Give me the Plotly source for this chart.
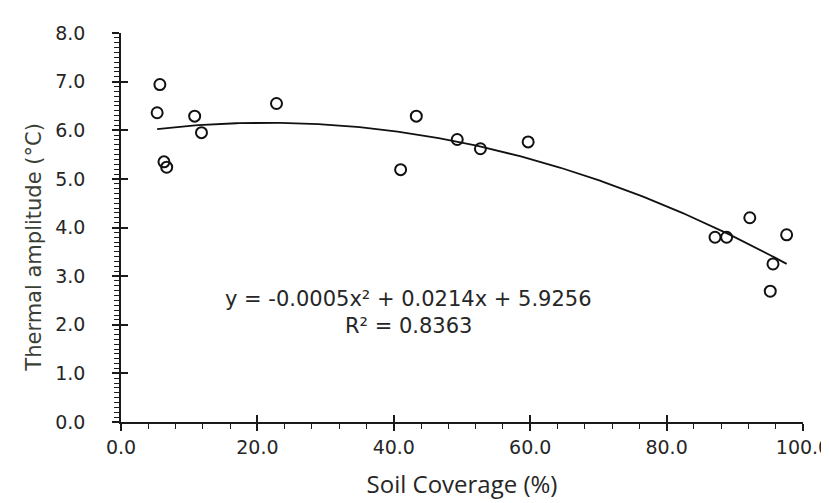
import plotly.graph_objects as go
import numpy as np

# Data
soil_coverage = [5.7, 5.3, 10.8, 11.8, 6.3, 6.7, 22.8, 41.0, 43.3, 49.3, 52.7, 59.7,
                 87.1, 88.8, 92.2, 97.6, 95.6, 95.2]
thermal_amp = [6.94, 6.36, 6.29, 5.95, 5.35, 5.24, 6.55, 5.19, 6.29, 5.81, 5.62, 5.76,
               3.80, 3.80, 4.20, 3.85, 3.25, 2.69]

# Polynomial trendline as printed on the chart
coef_a, coef_b, coef_c = -0.0005, 0.0214, 5.9256
trend_x = np.linspace(min(soil_coverage), max(soil_coverage), 200)
trend_y = coef_a * trend_x**2 + coef_b * trend_x + coef_c

x_tickvals = [0, 20, 40, 60, 80, 100]
x_ticktext = ["0.0", "20.0", "40.0", "60.0", "80.0", "100.0"]
y_tickvals = [0, 1, 2, 3, 4, 5, 6, 7, 8]
y_ticktext = ["0.0", "1.0", "2.0", "3.0", "4.0", "5.0", "6.0", "7.0", "8.0"]

AX = "#1a1a1a"
FONT = "DejaVu Sans, Verdana, sans-serif"
TXT = "#262626"

fig = go.Figure()
fig.add_trace(go.Scatter(x=trend_x, y=trend_y, mode="lines",
                         line=dict(color="#111111", width=1.8), hoverinfo="skip"))
fig.add_trace(go.Scatter(x=soil_coverage, y=thermal_amp, mode="markers",
                         marker=dict(symbol="circle-open", size=11,
                                     line=dict(color="#111111", width=2), color="#111111")))
# invisible trace on overlay axes (carries the inside half of the crossing major ticks)
fig.add_trace(go.Scatter(x=[0], y=[0], xaxis="x2", yaxis="y2", mode="markers",
                         marker=dict(opacity=0), hoverinfo="skip"))

fig.update_layout(
    width=829, height=503,
    margin=dict(l=113, r=34, t=25, b=89),
    paper_bgcolor="white", plot_bgcolor="white",
    showlegend=False,
    font=dict(family=FONT, size=19, color=TXT),
    xaxis=dict(range=[0, 100], tickvals=x_tickvals, ticktext=x_ticktext, automargin=False,
               showgrid=False, zeroline=False, showline=True, linecolor=AX, linewidth=1.6,
               ticks="outside", ticklen=7, tickwidth=1.6, tickcolor=AX, ticklabelstandoff=0,
               tickfont=dict(family=FONT, size=19, color=TXT),
               minor=dict(dtick=4, ticks="outside", ticklen=5, tickwidth=1.3, tickcolor=AX),
               title=dict(text="Soil Coverage (%)",
                          font=dict(family="Open Sans, Noto Sans, sans-serif", size=24, color=TXT),
                          standoff=20)),
    yaxis=dict(range=[0, 8], tickvals=y_tickvals, ticktext=y_ticktext, automargin=False,
               showgrid=False, zeroline=False, showline=True, linecolor=AX, linewidth=1.6,
               ticks="outside", ticklen=7, tickwidth=1.6, tickcolor=AX, ticklabelstandoff=23,
               tickfont=dict(family=FONT, size=19, color=TXT),
               minor=dict(dtick=0.1, ticks="outside", ticklen=5, tickwidth=1.0, tickcolor=AX)),
    xaxis2=dict(overlaying="x", matches="x", anchor="y2", side="bottom", tickvals=x_tickvals,
                showticklabels=False, showgrid=False, zeroline=False, showline=False,
                ticks="inside", ticklen=7, tickwidth=1.6, tickcolor=AX),
    yaxis2=dict(overlaying="y", matches="y", anchor="x2", side="left", tickvals=y_tickvals,
                showticklabels=False, showgrid=False, zeroline=False, showline=False,
                ticks="inside", ticklen=7, tickwidth=1.6, tickcolor=AX),
)

# y-axis title (placed to match the reference, slightly below the plot centre)
fig.add_annotation(x=-0.128, y=0.45, xref="paper", yref="paper", showarrow=False,
                   textangle=-90, xanchor="center", yanchor="middle",
                   text="Thermal amplitude (°C)",
                   font=dict(family=FONT, size=21, color="#3a4036"))

fig.add_annotation(x=42.1, y=2.53, xref="x", yref="y", showarrow=False,
                   text="y = -0.0005x² + 0.0214x + 5.9256",
                   font=dict(family=FONT, size=21, color=TXT))
fig.add_annotation(x=42.1, y=1.98, xref="x", yref="y", showarrow=False,
                   text="R² = 0.8363",
                   font=dict(family=FONT, size=21, color=TXT))

fig.write_html("out.html")
